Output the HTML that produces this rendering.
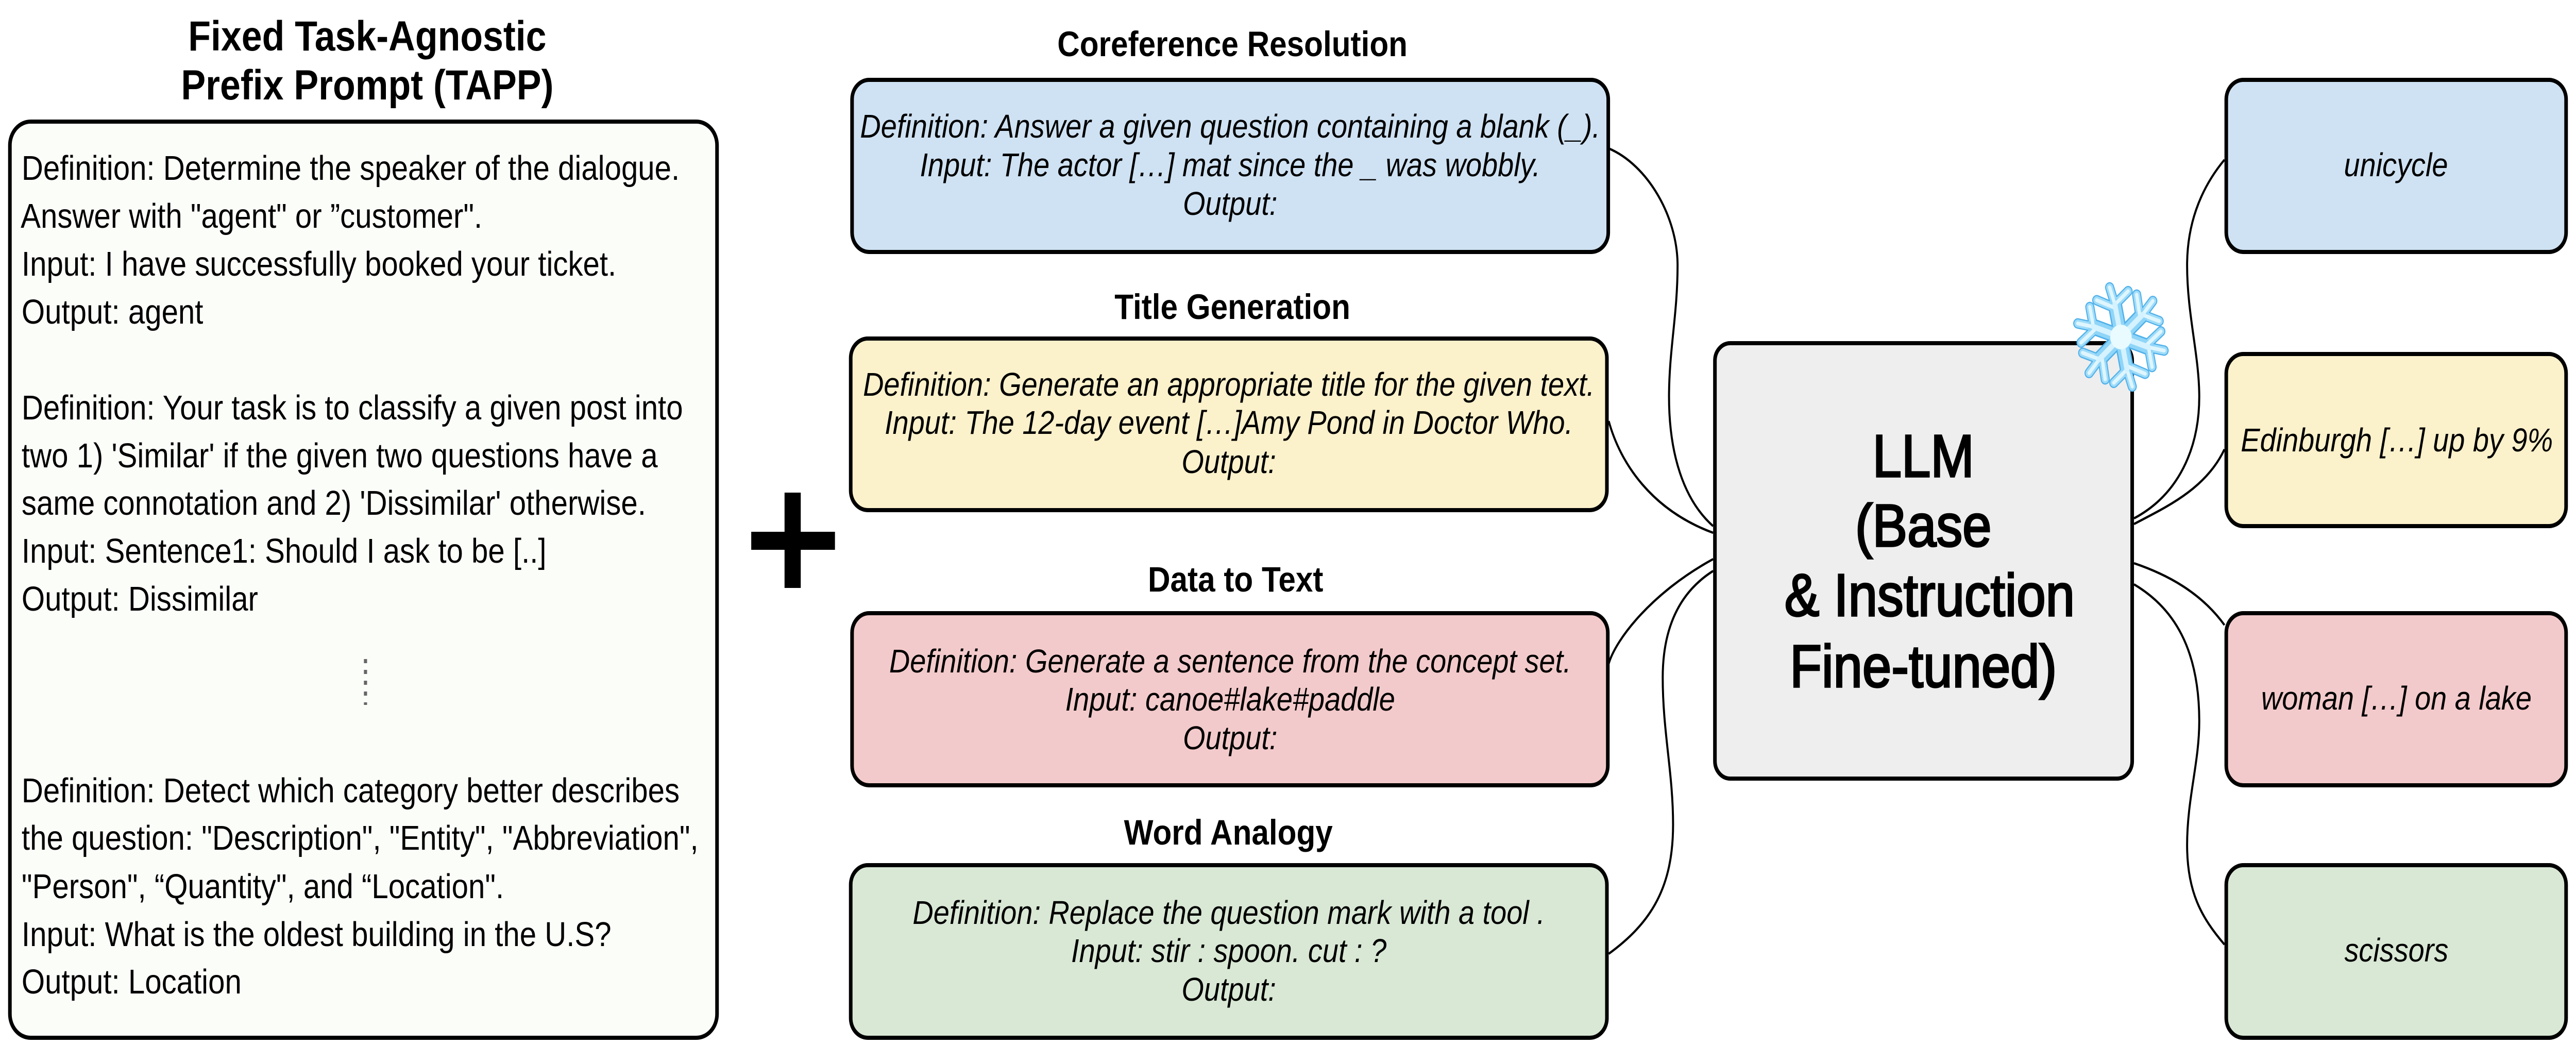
<!DOCTYPE html>
<html><head><meta charset="utf-8"><style>
html,body{margin:0;padding:0;background:#fff;width:100%;height:100%;overflow:hidden}
svg{display:block;width:100vw;height:100vh;overflow:hidden}
text{font-family:"Liberation Sans",Arial,sans-serif;fill:#000}
.i{font-style:italic;font-size:64px;text-anchor:middle}
.t{font-size:66.6px}.h{font-weight:700;font-size:69px;text-anchor:middle}
.T{font-weight:700;font-size:82px;text-anchor:middle}
.L{font-size:116px;text-anchor:middle;stroke:#000;stroke-width:3.5px}
.box{stroke:#000;stroke-width:8}
</style></head><body>
<svg xmlns="http://www.w3.org/2000/svg" viewBox="0 0 5723 2028" preserveAspectRatio="none">
<rect width="5723" height="2028" fill="#fff"/>
<g fill="none" stroke="#000" stroke-width="4.5">
<path d="M3574 288C3660 320 3727 420 3727 515C3727 610 3708 680 3708 770C3708 880 3740 970 3806 1021"/>
<path d="M3574 817C3600 900 3670 990 3806 1034"/>
<path d="M3574 1288C3590 1240 3670 1150 3806 1085"/>
<path d="M3574 1851C3670 1790 3717 1720 3717 1600C3717 1500 3694 1420 3694 1315C3694 1220 3730 1150 3806 1108"/>
<path d="M4942 310C4885 370 4859 440 4859 515C4859 610 4886 690 4886 770C4886 870 4840 960 4741 1006"/>
<path d="M4942 872C4900 950 4810 985 4741 1017"/>
<path d="M4741 1093C4815 1115 4890 1150 4942 1213"/>
<path d="M4741 1134C4830 1180 4886 1260 4886 1400C4886 1480 4859 1550 4859 1640C4859 1730 4890 1780 4942 1833"/>
</g>
<rect class="box" x="22" y="236" width="1571" height="1778" rx="46" fill="#fbfdf9"/>
<rect class="box" x="1893" y="155" width="1680" height="334" rx="38" fill="#cfe2f3"/>
<rect class="box" x="1890" y="657" width="1680" height="333" rx="38" fill="#fbf1cb"/>
<rect class="box" x="1893" y="1190" width="1679" height="334" rx="38" fill="#f3cacb"/>
<rect class="box" x="1890" y="1679" width="1680" height="335" rx="38" fill="#d9e8d5"/>
<rect class="box" x="4946" y="155" width="755" height="334" rx="38" fill="#cfe2f3"/>
<rect class="box" x="4946" y="687" width="755" height="334" rx="38" fill="#fbf1cb"/>
<rect class="box" x="4946" y="1190" width="755" height="334" rx="38" fill="#f3cacb"/>
<rect class="box" x="4946" y="1679" width="755" height="335" rx="38" fill="#d9e8d5"/>
<rect class="box" x="3810" y="666" width="927" height="845" rx="34" fill="#eeeeee"/>

<text class="T" x="816" y="98">Fixed Task-Agnostic</text>
<text class="T" x="816" y="193">Prefix Prompt (TAPP)</text>
<text class="t" x="48" y="349">Definition: Determine the speaker of the dialogue.</text>
<text class="t" x="46" y="442">Answer with "agent" or ”customer".</text>
<text class="t" x="48" y="535">Input: I have successfully booked your ticket.</text>
<text class="t" x="48" y="628">Output: agent</text>
<text class="t" x="48" y="814">Definition: Your task is to classify a given post into</text>
<text class="t" x="48" y="907">two 1) 'Similar' if the given two questions have a</text>
<text class="t" x="48" y="999">same connotation and 2) 'Dissimilar' otherwise.</text>
<text class="t" x="48" y="1092">Input: Sentence1: Should I ask to be [..]</text>
<text class="t" x="48" y="1185">Output: Dissimilar</text>
<text class="t" x="48" y="1557">Definition: Detect which category better describes</text>
<text class="t" x="48" y="1649">the question: "Description", "Entity", "Abbreviation",</text>
<text class="t" x="48" y="1743">"Person", “Quantity", and “Location".</text>
<text class="t" x="48" y="1836">Input: What is the oldest building in the U.S?</text>
<text class="t" x="48" y="1928">Output: Location</text>
<path d="M812 1279V1368" stroke="#666" stroke-width="7" stroke-dasharray="8 13" fill="none"/>
<rect x="1669" y="1032" width="186" height="35"/>
<rect x="1743" y="956" width="36" height="185"/>

<text class="h" x="2738" y="109">Coreference Resolution</text>
<text class="h" x="2738" y="619">Title Generation</text>
<text class="h" x="2745" y="1148">Data to Text</text>
<text class="h" x="2729" y="1639">Word Analogy</text>

<text class="i" x="2733" y="267">Definition: Answer a given question containing a blank (_).</text>
<text class="i" x="2733" y="342">Input: The actor […] mat since the _ was wobbly.</text>
<text class="i" x="2733" y="417">Output:</text>
<text class="i" x="2730" y="768">Definition: Generate an appropriate title for the given text.</text>
<text class="i" x="2730" y="842">Input: The 12-day event […]Amy Pond in Doctor Who.</text>
<text class="i" x="2730" y="918">Output:</text>
<text class="i" x="2733" y="1305">Definition: Generate a sentence from the concept set.</text>
<text class="i" x="2733" y="1379">Input: canoe#lake#paddle</text>
<text class="i" x="2733" y="1454">Output:</text>
<text class="i" x="2730" y="1793">Definition: Replace the question mark with a tool .</text>
<text class="i" x="2730" y="1867">Input: stir : spoon. cut : ?</text>
<text class="i" x="2730" y="1942">Output:</text>

<text class="i" x="5323" y="342">unicycle</text>
<text class="i" x="5325" y="876">Edinburgh […] up by 9%</text>
<text class="i" x="5324" y="1377">woman […] on a lake</text>
<text class="i" x="5324" y="1866">scissors</text>

<text class="L" x="4273" y="925">LLM</text>
<text class="L" x="4273" y="1060">(Base</text>
<text class="L" x="4287" y="1195">&amp; Instruction</text>
<text class="L" x="4273" y="1333">Fine-tuned)</text>

<defs>
<g id="arm" fill="none" stroke-linecap="round">
<path d="M70 0L108 -5M70 0L91 37M62 0L88 -41"/>
</g>
<g id="trunk" fill="none" stroke-linecap="round">
<path d="M0 0L70 0"/>
</g>
<g id="all">
<use href="#arm" transform="rotate(-102)"/><use href="#arm" transform="rotate(-42)"/><use href="#arm" transform="rotate(18)"/><use href="#arm" transform="rotate(78)"/><use href="#arm" transform="rotate(138)"/><use href="#arm" transform="rotate(198)"/>
</g>
<g id="allt">
<use href="#trunk" transform="rotate(-102)"/><use href="#trunk" transform="rotate(-42)"/><use href="#trunk" transform="rotate(18)"/><use href="#trunk" transform="rotate(78)"/><use href="#trunk" transform="rotate(138)"/><use href="#trunk" transform="rotate(198)"/>
</g>
</defs>
<g transform="translate(4712 654) scale(.92)">
<use href="#all" stroke="#4fb0ea" stroke-width="22"/>
<use href="#allt" stroke="#4fb0ea" stroke-width="34"/>
<use href="#all" stroke="#9fdcf9" stroke-width="17"/>
<use href="#allt" stroke="#8fd5f8" stroke-width="28"/>
<use href="#all" stroke="#dff6ff" stroke-width="8"/>
<use href="#allt" stroke="#d4f2ff" stroke-width="12"/>
<circle r="26" fill="#e9fbff"/>
</g>
</svg>
</body></html>
